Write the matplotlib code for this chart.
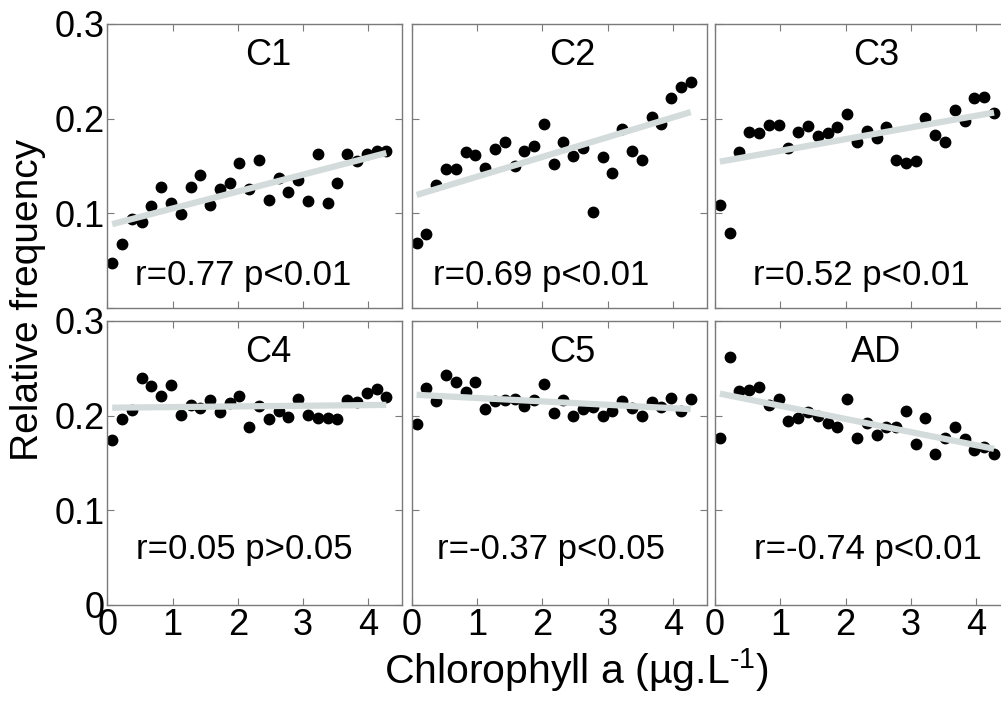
import numpy as np
import matplotlib
matplotlib.use('Agg')
import matplotlib.pyplot as plt

plt.rcParams['font.family'] = ['Liberation Sans', 'DejaVu Sans']
plt.rcParams['mathtext.fontset'] = 'custom'
plt.rcParams['mathtext.rm'] = 'Liberation Sans'
plt.rcParams['mathtext.it'] = 'Liberation Sans:italic'

# bin centres of chlorophyll a (0.15 wide bins)
chl = np.arange(29) * 0.15 + 0.075

c1 = [0.047, 0.068, 0.094, 0.091, 0.108, 0.128, 0.111, 0.099, 0.128, 0.140,
      0.109, 0.126, 0.132, 0.153, 0.126, 0.156, 0.114, 0.137, 0.123, 0.135,
      0.113, 0.163, 0.111, 0.132, 0.163, 0.155, 0.163, 0.166, 0.166]
c2 = [0.069, 0.078, 0.130, 0.147, 0.147, 0.165, 0.162, 0.148, 0.168, 0.175,
      0.150, 0.166, 0.171, 0.194, 0.152, 0.175, 0.161, 0.169, 0.101, 0.159,
      0.143, 0.189, 0.166, 0.156, 0.202, 0.194, 0.222, 0.233, 0.239]
c3 = [0.109, 0.079, 0.165, 0.186, 0.185, 0.193, 0.193, 0.169, 0.186, 0.192,
      0.182, 0.185, 0.191, 0.205, 0.175, 0.187, 0.180, 0.191, 0.156, 0.153,
      0.155, 0.201, 0.183, 0.175, 0.209, 0.198, 0.222, 0.223, 0.206]
c4 = [0.174, 0.196, 0.206, 0.240, 0.231, 0.221, 0.232, 0.201, 0.211, 0.208,
      0.216, 0.204, 0.213, 0.221, 0.188, 0.210, 0.196, 0.205, 0.199, 0.218,
      0.201, 0.198, 0.198, 0.196, 0.217, 0.214, 0.224, 0.228, 0.220]
c5 = [0.191, 0.229, 0.215, 0.243, 0.236, 0.225, 0.235, 0.207, 0.215, 0.216,
      0.218, 0.210, 0.216, 0.233, 0.203, 0.217, 0.200, 0.207, 0.209, 0.200,
      0.205, 0.215, 0.208, 0.200, 0.214, 0.209, 0.219, 0.205, 0.218]
ad = [0.176, 0.262, 0.226, 0.227, 0.230, 0.211, 0.218, 0.194, 0.198, 0.204,
      0.200, 0.192, 0.188, 0.218, 0.176, 0.192, 0.180, 0.188, 0.188, 0.205,
      0.170, 0.197, 0.159, 0.176, 0.188, 0.175, 0.164, 0.167, 0.160]

names = ['C1', 'C2', 'C3', 'C4', 'C5', 'AD']
series = [c1, c2, c3, c4, c5, ad]
stats = ['r=0.77 p<0.01', 'r=0.69 p<0.01', 'r=0.52 p<0.01',
         'r=0.05 p>0.05', 'r=-0.37 p<0.05', 'r=-0.74 p<0.01']
stat_x = [0.46, 0.44, 0.495, 0.466, 0.473, 0.517]

fig = plt.figure(figsize=(10.01, 7.02), dpi=100)

lefts = [0.1072, 0.4113, 0.7143]
bottoms = [0.5613, 0.1382]
w, h = 0.2947, 0.4046
spine_col = '#7a7a7a'

for i, (name, y) in enumerate(zip(names, series)):
    row, col = divmod(i, 3)
    ax = fig.add_axes([lefts[col], bottoms[row], w, h])
    y = np.array(y)
    ax.plot(chl, y, 'o', color='black', markersize=7.5, zorder=2)
    k, b = np.polyfit(chl, y, 1)
    xl = np.array([chl[0], chl[-1]])
    ax.plot(xl, k * xl + b, color='#d3dbdb', linewidth=4.5,
            solid_capstyle='butt', zorder=3)
    ax.set_xlim(0, 4.52)
    ax.set_ylim(0, 0.3)
    ax.set_xticks([0, 1, 2, 3, 4])
    ax.set_yticks([0, 0.1, 0.2, 0.3])
    ax.tick_params(direction='in', length=5, width=0.8, color=spine_col,
                   top=True, right=True, labelsize=26, pad=2)
    for s in ax.spines.values():
        s.set_color(spine_col)
        s.set_linewidth(1.0)
    if row == 0:
        ax.set_xticklabels([])
    else:
        ax.set_xticklabels(['0', '1', '2', '3', '4'])
    if col == 0:
        if row == 0:
            ax.set_yticklabels(['', '0.1', '0.2', '0.3'])
        else:
            ax.set_yticklabels(['0', '0.1', '0.2', '0.3'])
    else:
        ax.set_yticklabels([])
    ax.text(0.545, 0.89, name, transform=ax.transAxes, fontsize=26,
            ha='center', va='center')
    sy = 0.116 if row == 0 else 0.194
    ax.text(stat_x[i], sy, stats[i], transform=ax.transAxes, fontsize=25,
            ha='center', va='center')

fig.text(0.028, 0.573, 'Relative frequency', rotation=90, fontsize=28,
         ha='center', va='center')
fig.text(0.576, 0.045, 'Chlorophyll a (µg.L$^{\\mathrm{\u2010}1}$)', fontsize=29.5,
         ha='center', va='center')

fig.savefig('out.png', dpi=100)
